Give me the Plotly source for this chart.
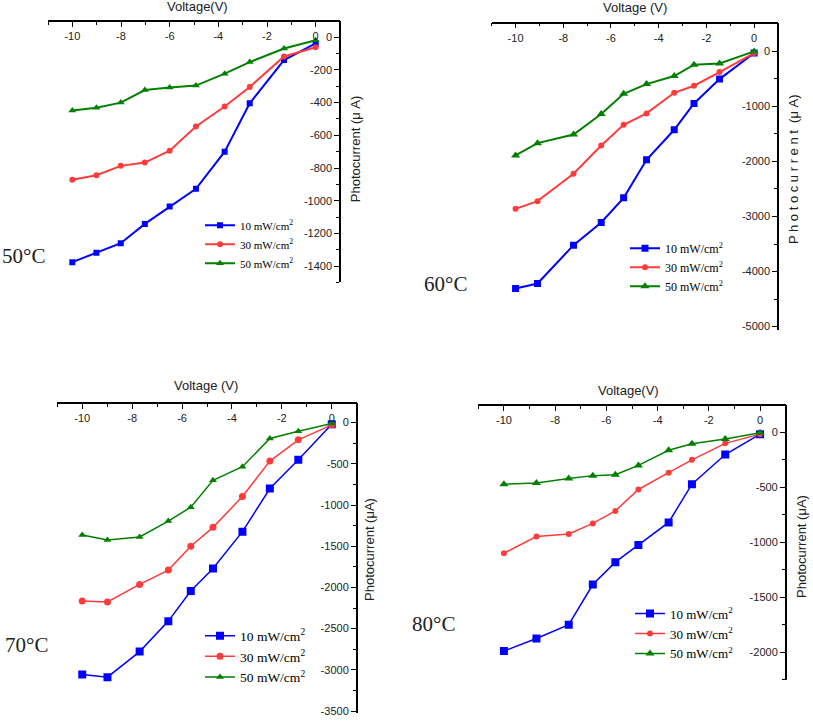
import plotly.graph_objects as go

W, H = 813, 721

# ---- data ----
v50 = [-10, -9.01, -8.01, -7.02, -6.0, -4.92, -3.74, -2.71, -1.30, 0]
i50_10 = [-1376, -1319, -1260, -1142, -1035, -927, -700, -404, -140, -37]
i50_30 = [-872, -844, -787, -767, -694, -546, -424, -304, -118, -61]
i50_50 = [-448, -432, -400, -323, -308, -296, -223, -152, -69, -18]

v60 = [-10, -9.08, -7.57, -6.41, -5.47, -4.51, -3.35, -2.52, -1.45, 0]
i60_10 = [-4309, -4218, -3521, -3109, -2661, -1970, -1424, -945, -503, -30]
i60_30 = [-2861, -2721, -2224, -1709, -1333, -1127, -752, -624, -376, -30]
i60_50 = [-1891, -1667, -1509, -1139, -770, -594, -448, -242, -218, 0]

v70 = [-10, -8.99, -7.7, -6.55, -5.65, -4.76, -3.58, -2.48, -1.34, 0]
i70_10 = [-3057, -3089, -2779, -2409, -2043, -1770, -1323, -800, -450, -20]
i70_30 = [-2164, -2176, -1963, -1790, -1500, -1271, -897, -467, -209, -28]
i70_50 = [-1364, -1424, -1388, -1195, -1026, -700, -535, -193, -105, -12]

v80 = [-10, -8.73, -7.47, -6.53, -5.65, -4.75, -3.57, -2.66, -1.36, 0]
i80_10 = [-1991, -1877, -1751, -1385, -1181, -1025, -819, -471, -201, -15]
i80_30 = [-1100, -948, -924, -828, -714, -519, -366, -249, -99, -15]
i80_50 = [-471, -459, -420, -393, -384, -300, -162, -102, -60, -3]

# tick labels
x_ticks = [-10, -8, -6, -4, -2, 0]
y_ticks_50 = [-1400, -1200, -1000, -800, -600, -400, -200, 0]
y_ticks_60 = [-5000, -4000, -3000, -2000, -1000, 0]
y_ticks_70 = [-3500, -3000, -2500, -2000, -1500, -1000, -500, 0]
y_ticks_80 = [-2000, -1500, -1000, -500, 0]

series_names = ["10 mW/cm<sup>2</sup>", "30 mW/cm<sup>2</sup>", "50 mW/cm<sup>2</sup>"]
colors = ["#0000FF", "#FF3B3B", "#008000"]
symbols = ["square", "circle", "triangle-up"]

panels = [
    dict(v=v50, ys=[i50_10, i50_30, i50_50], temp="50°C", yticks=y_ticks_50,
         px=(48, 340), py=(21, 284), yr=(-1500, 100), ymin=100,
         xt="Voltage(V)", yt="Photocurrent (μ A)",
         xtpos=(197, 7), ytpos=(355, 150), temppos=(0, 257),
         leg=(200, 212), legfont=11, lw=2, ms=[6, 6, 7]),
    dict(v=v60, ys=[i60_10, i60_30, i60_50], temp="60°C", yticks=y_ticks_60,
         px=(491.7, 778), py=(22.7, 331.7), yr=(-5060, 524), ymin=500,
         xt="Voltage (V)", yt="P h o t o c u r r e n t  (μ A)",
         xtpos=(635, 8), ytpos=(793, 170), temppos=(422, 286),
         leg=(625, 235), legfont=12, lw=2, ms=[7, 6, 8]),
    dict(v=v70, ys=[i70_10, i70_30, i70_50], temp="70°C", yticks=y_ticks_70,
         px=(57.3, 356.7), py=(405, 717), yr=(-3524, 241), ymin=250,
         xt="Voltage (V)", yt="Photocurrent (μA)",
         xtpos=(206, 388), ytpos=(370, 553), temppos=(3, 649),
         leg=(200, 624), legfont=13.5, lw=1.5, ms=[8, 7, 7]),
    dict(v=v80, ys=[i80_10, i80_30, i80_50], temp="80°C", yticks=y_ticks_80,
         px=(478.3, 785.7), py=(407.3, 683.3), yr=(-2250, 250), ymin=250,
         xt="Voltage(V)", yt="Photocurrent (μA)",
         xtpos=(628, 393), ytpos=(802, 550), temppos=(410, 627),
         leg=(630, 602), legfont=13, lw=1.5, ms=[8, 6, 8]),
]

fig = go.Figure()
annotations = []
layout = dict(width=W, height=H, margin=dict(l=0, r=0, t=0, b=0),
              paper_bgcolor="white", plot_bgcolor="white", showlegend=True)
tickfont = dict(family="Liberation Sans, Arial", size=11, color="#222")

for k, p in enumerate(panels):
    n = "" if k == 0 else str(k + 1)
    xa, ya = "x" + n, "y" + n
    lg = "legend" if k == 0 else "legend" + str(k + 1)
    for j in range(3):
        fig.add_trace(go.Scatter(
            x=p["v"], y=p["ys"][j], mode="lines+markers", name=series_names[j],
            line=dict(color=colors[j], width=p["lw"]),
            marker=dict(symbol=symbols[j], color=colors[j], size=p["ms"][j]),
            xaxis=xa, yaxis=ya, legend=lg))
    ytop = 1 - p["py"][0] / H
    xright = p["px"][1] / W
    layout["xaxis" + n] = dict(
        domain=[p["px"][0] / W, xright], anchor="free", position=ytop, side="bottom",
        range=[-11, 1], tickmode="array", tickvals=x_ticks,
        ticktext=[str(t) for t in x_ticks], ticks="outside", ticklen=5,
        showline=True, linecolor="black", linewidth=1.5,
        showgrid=False, zeroline=False, tickcolor="black",
        minor=dict(tickmode="linear", dtick=1, tick0=0, ticks="outside", ticklen=3,
                   tickcolor="black", showgrid=False),
        tickfont=tickfont)
    layout["yaxis" + n] = dict(
        domain=[1 - p["py"][1] / H, ytop], anchor="free", position=xright, side="left",
        range=list(p["yr"]), tickmode="array", tickvals=p["yticks"],
        ticktext=[str(t) for t in p["yticks"]], ticks="outside", ticklen=5,
        showline=True, linecolor="black", linewidth=1.5,
        showgrid=False, zeroline=False, tickcolor="black",
        minor=dict(tickmode="linear", dtick=p["ymin"], tick0=0, ticks="outside", ticklen=3,
                   tickcolor="black", showgrid=False),
        tickfont=tickfont)
    layout[lg] = dict(
        x=p["leg"][0] / W, y=1 - p["leg"][1] / H, xanchor="left", yanchor="top",
        bgcolor="rgba(0,0,0,0)", borderwidth=0, itemwidth=30,
        font=dict(family="Liberation Serif, Times New Roman", size=p["legfont"], color="black"),
        tracegroupgap=0)
    annotations.append(dict(text=p["xt"], x=p["xtpos"][0] / W, y=1 - p["xtpos"][1] / H,
                            xref="paper", yref="paper", showarrow=False,
                            xanchor="center", yanchor="middle",
                            font=dict(family="Liberation Sans, Arial", size=13, color="#222")))
    annotations.append(dict(text=p["yt"], x=p["ytpos"][0] / W, y=1 - p["ytpos"][1] / H,
                            xref="paper", yref="paper", showarrow=False, textangle=-90,
                            xanchor="center", yanchor="middle",
                            font=dict(family="Liberation Sans, Arial", size=13, color="#222")))
    annotations.append(dict(text=p["temp"], x=p["temppos"][0] / W, y=1 - p["temppos"][1] / H,
                            xref="paper", yref="paper", showarrow=False,
                            xanchor="left", yanchor="middle",
                            font=dict(family="Liberation Serif, Times New Roman", size=21, color="#222")))

layout["annotations"] = annotations
fig.update_layout(**layout)
fig.write_html("out.html")
